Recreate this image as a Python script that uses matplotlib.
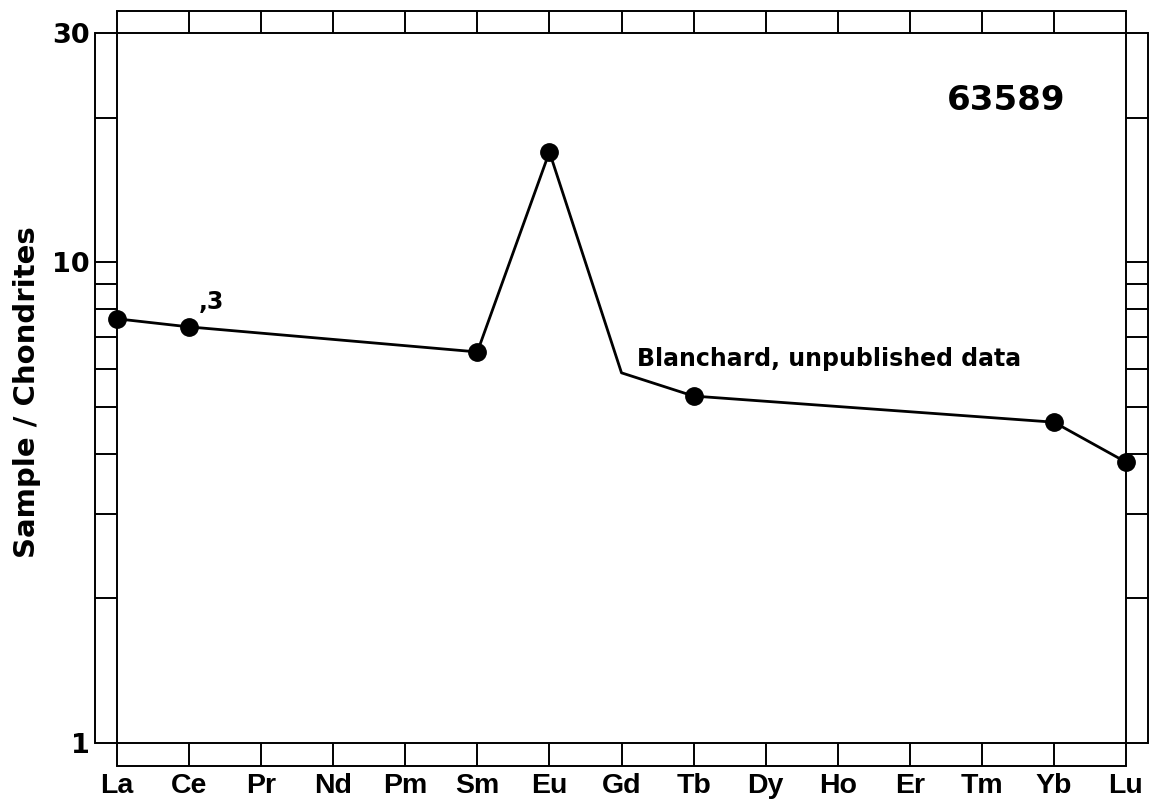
import matplotlib
matplotlib.use("Agg")
import matplotlib.pyplot as plt
import matplotlib.transforms as mtransforms

# Data
elements = ["La", "Ce", "Pr", "Nd", "Pm", "Sm", "Eu", "Gd", "Tb", "Dy", "Ho", "Er", "Tm", "Yb", "Lu"]
line_elements = ["La", "Ce", "Sm", "Eu", "Gd", "Tb", "Yb", "Lu"]
line_values = [7.63, 7.34, 6.51, 16.97, 5.89, 5.27, 4.65, 3.84]
marker_elements = ["La", "Ce", "Sm", "Eu", "Tb", "Yb", "Lu"]
marker_values = [7.63, 7.34, 6.51, 16.97, 5.27, 4.65, 3.84]
y_major = [1, 10, 30]
y_major_labels = ["1", "10", "30"]
y_minor = [2, 3, 4, 5, 6, 7, 8, 9, 20]

W, H = 1151, 808
fig = plt.figure(figsize=(W / 100, H / 100), dpi=100)
ax = fig.add_axes([117 / W, 1 - 743 / H, (1126 - 117) / W, (743 - 33) / H])

xpos = {e: i for i, e in enumerate(elements)}
lx = [xpos[e] for e in line_elements]
mx = [xpos[e] for e in marker_elements]

ax.plot(lx, line_values, color="black", lw=2.0, clip_on=False, zorder=3)
ax.plot(mx, marker_values, "o", color="black", ms=12.5, clip_on=False, zorder=4)

ax.set_yscale("log")
ax.set_xlim(0, len(elements) - 1)
ax.set_ylim(1, 30)

lw_frame = 1.4
for s in ax.spines.values():
    s.set_linewidth(lw_frame)

xlen = 16.2  # points
ylen = 15.5
ax.set_xticks(range(len(elements)))
ax.set_xticklabels(elements, fontfamily="Liberation Sans", fontweight="bold", fontsize=20.5)
ax.set_yticks(y_major)
ax.set_yticklabels(y_major_labels, fontfamily="DejaVu Sans", fontweight="bold", fontsize=19.5)
ax.set_yticks(y_minor, minor=True)
ax.yaxis.set_minor_formatter(matplotlib.ticker.NullFormatter())
ax.tick_params(axis="x", which="both", direction="out", length=xlen, width=lw_frame,
               top=True, bottom=True, pad=5.5)
ax.tick_params(axis="y", which="both", direction="out", length=ylen, width=lw_frame,
               left=True, right=True, pad=4)

# Outer frame lines of the tick strips
def offset_tr(dx_pt, dy_pt):
    return ax.transAxes + mtransforms.ScaledTranslation(dx_pt / 72, dy_pt / 72, fig.dpi_scale_trans)

kw = dict(color="black", lw=lw_frame, clip_on=False, solid_capstyle="projecting")
ax.plot([0, 1], [1, 1], transform=offset_tr(0, xlen), **kw)
ax.plot([0, 1], [0, 0], transform=offset_tr(0, -xlen), **kw)
ax.plot([0, 0], [0, 1], transform=offset_tr(-ylen, 0), **kw)
ax.plot([1, 1], [0, 1], transform=offset_tr(ylen, 0), **kw)

# Texts
fig.text(947 / W, 1 - 100 / H, "63589", fontfamily="DejaVu Sans", fontweight="bold",
         fontsize=24.5, ha="left", va="center")
fig.text(637 / W, 1 - 366 / H, "Blanchard, unpublished data", fontfamily="DejaVu Sans",
         fontweight="bold", fontsize=17, ha="left", va="baseline")
fig.text(199 / W, 1 - 309 / H, ",3", fontfamily="DejaVu Sans", fontweight="bold",
         fontsize=17, ha="left", va="baseline")
fig.text(27 / W, 1 - 392 / H, "Sample / Chondrites", fontfamily="DejaVu Sans",
         fontweight="bold", fontsize=21, rotation=90, ha="center", va="center")

fig.savefig("out.png", dpi=100)
